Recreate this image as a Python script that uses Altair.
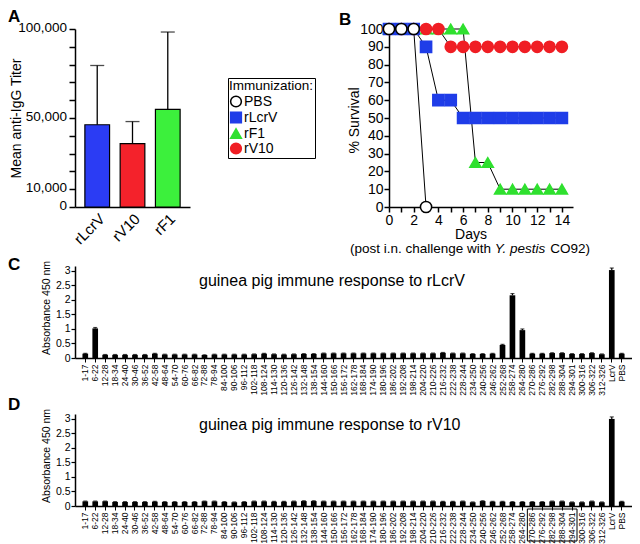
import altair as alt
import pandas as pd

FONT = "Liberation Sans"

# ---------------- Panel A data ----------------
a_groups = ["rLcrV", "rV10", "rF1"]
a_means = [46200, 35600, 54800]
a_errs = [33300, 12400, 43500]
a_colors = ["#2b3cf4", "#f4222b", "#3cf03c"]
a_ticks = [0, 10000, 20000, 30000, 40000, 50000, 60000, 70000, 80000, 90000, 100000]
a_label_vals = [0, 10000, 50000, 100000]
a_label_text = ["0", "10,000", "50,000", "100,000"]

# ---------------- Panel B data ----------------
b_series = ["PBS", "rLcrV", "rF1", "rV10"]
b_shapes = ["circle", "square", "triangle-up", "circle"]
b_fills = ["white", "#1f3de8", "#2fe02f", "#f01e24"]
b_strokes = ["black", "#1f3de8", "#2fe02f", "#f01e24"]
b_days = [0, 1, 2, 3, 4, 5, 6, 7, 8, 9, 10, 11, 12, 13, 14]
pbs_days = [0, 1, 2, 3]
pbs_surv = [100, 100, 100, 0]
rlcrv_surv = [100, 100, 100, 90, 60, 60, 50, 50, 50, 50, 50, 50, 50, 50, 50]
rf1_surv = [100, 100, 100, 100, 100, 100, 100, 25, 25, 10, 10, 10, 10, 10, 10]
rv10_surv = [100, 100, 100, 100, 100, 90, 90, 90, 90, 90, 90, 90, 90, 90, 90]

# ---------------- Panels C / D data ----------------
pep_labels = ["1-17", "6-22", "12-28", "18-34", "24-40", "30-46", "36-52", "42-58",
              "48-64", "54-70", "60-76", "66-82", "72-88", "78-94", "84-100", "90-106",
              "96-112", "102-118", "108-124", "114-130", "120-136", "126-142", "132-148",
              "138-154", "144-160", "150-166", "156-172", "162-178", "168-184", "174-190",
              "180-196", "186-202", "192-208", "198-214", "204-220", "210-226", "216-232",
              "222-238", "228-244", "234-250", "240-256", "246-262", "252-268", "258-274",
              "264-280", "270-286", "276-292", "282-298", "288-304", "294-301", "300-316",
              "306-322", "312-326", "LcrV", "PBS"]
c_vals = [0.15, 1.02, 0.11, 0.11, 0.11, 0.11, 0.11, 0.15, 0.12, 0.12, 0.12, 0.12,
          0.10, 0.12, 0.12, 0.12, 0.12, 0.13, 0.15, 0.13, 0.12, 0.13, 0.14, 0.14,
          0.16, 0.16, 0.16, 0.16, 0.16, 0.16, 0.16, 0.16, 0.16, 0.16, 0.16, 0.16,
          0.18, 0.16, 0.16, 0.14, 0.14, 0.15, 0.45, 2.16, 0.96, 0.15, 0.15, 0.17,
          0.17, 0.14, 0.14, 0.17, 0.13, 3.03, 0.15]
c_errs = [0.01, 0.03, 0.01, 0.01, 0.01, 0.01, 0.01, 0.01, 0.01, 0.01, 0.01, 0.01,
          0.01, 0.01, 0.01, 0.01, 0.01, 0.01, 0.01, 0.01, 0.01, 0.01, 0.01, 0.01,
          0.01, 0.01, 0.01, 0.01, 0.01, 0.01, 0.01, 0.01, 0.01, 0.01, 0.01, 0.01,
          0.01, 0.01, 0.01, 0.01, 0.01, 0.01, 0.02, 0.06, 0.04, 0.01, 0.01, 0.01,
          0.01, 0.01, 0.01, 0.01, 0.01, 0.07, 0.01]
d_vals = [0.16, 0.16, 0.16, 0.14, 0.14, 0.14, 0.14, 0.15, 0.14, 0.14, 0.14, 0.14,
          0.16, 0.16, 0.14, 0.13, 0.14, 0.16, 0.16, 0.15, 0.15, 0.16, 0.17, 0.17,
          0.16, 0.16, 0.16, 0.16, 0.16, 0.16, 0.16, 0.16, 0.16, 0.16, 0.16, 0.16,
          0.15, 0.15, 0.16, 0.13, 0.17, 0.15, 0.15, 0.14, 0.14, 0.14, 0.14, 0.16,
          0.16, 0.13, 0.13, 0.16, 0.13, 3.00, 0.15]
d_errs = [0.01] * 53 + [0.07, 0.01]
c_ticks = [0, 0.5, 1, 1.5, 2, 2.5, 3]
box_first, box_last = "270-286", "294-301"


def text_layer(text, x, y, size, weight="normal", style="normal", align="left", baseline="alphabetic"):
    return alt.Chart(pd.DataFrame({"t": [text]})).mark_text(
        font=FONT, fontSize=size, fontWeight=weight, fontStyle=style,
        align=align, baseline=baseline, color="black"
    ).encode(text="t:N", x=alt.value(x), y=alt.value(y))


# ---------------- Panel A ----------------
A_W, A_H = 115, 178
dfa = pd.DataFrame({"g": a_groups, "m": a_means,
                    "top": [m + e for m, e in zip(a_means, a_errs)]})
dfa_lab = pd.DataFrame({"v": a_label_vals, "t": a_label_text})
xa = alt.X("g:N", sort=a_groups,
           scale=alt.Scale(domain=a_groups, paddingInner=0.3, paddingOuter=0.28),
           axis=alt.Axis(title=None, labelAngle=-45, labelFontSize=15, ticks=False,
                         domain=True, domainWidth=1.5, labelPadding=4))


def ya(field):
    return alt.Y(field, scale=alt.Scale(domain=[0, 100000], nice=False),
                 axis=alt.Axis(title="Mean anti-IgG Titer", values=a_ticks, labels=False,
                               tickSize=6, tickWidth=1.5, domain=True, domainWidth=1.5,
                               titleFontSize=14,
                               titleX=-55, titleY=A_H / 2, titleBaseline="alphabetic"))


a_bars = alt.Chart(dfa).mark_bar(stroke="black", strokeWidth=1.2).encode(
    x=xa, y=ya("m:Q"),
    color=alt.Color("g:N", scale=alt.Scale(domain=a_groups, range=a_colors), legend=None))
a_rule = alt.Chart(dfa).mark_rule(color="black", strokeWidth=1.3).encode(
    x=xa, y=ya("m:Q"), y2="top:Q")
a_cap = alt.Chart(dfa).mark_tick(color="black", thickness=1.3, size=14).encode(
    x=xa, y=ya("top:Q"))
a_ylabels = alt.Chart(dfa_lab).mark_text(
    font=FONT, fontSize=13.5, align="right", baseline="middle", color="black", dy=-1
).encode(y=ya("v:Q"), text="t:N", x=alt.value(-8))
panel_a = alt.layer(a_bars, a_rule, a_cap,
                    text_layer("A", -67, -20, 17, weight="bold", baseline="top")
                    ).properties(width=A_W, height=A_H)
panel_a = alt.layer(panel_a, a_ylabels).properties(width=A_W, height=A_H)

# ---------------- Panel B ----------------
B_W, B_H = 184, 178
rows = []
for name, days, surv in [("rF1", b_days, rf1_surv), ("rV10", b_days, rv10_surv),
                         ("rLcrV", b_days, rlcrv_surv), ("PBS", pbs_days, pbs_surv)]:
    for d, s in zip(days, surv):
        rows.append({"s": name, "day": d, "surv": s})
dfb = pd.DataFrame(rows)

xb = alt.X("day:Q", scale=alt.Scale(domain=[0, 14.9], nice=False),
           axis=alt.Axis(title=None, values=b_days,
                         labelExpr="datum.value % 2 == 0 ? datum.label : ''",
                         tickSize=5, tickWidth=1.5, domainWidth=1.5, labelFontSize=14,
                         labelPadding=1, labelFlush=False, labelOverlap=False))
yb = alt.Y("surv:Q", scale=alt.Scale(domain=[0, 100], nice=False),
           axis=alt.Axis(title="% Survival", values=[0, 10, 20, 30, 40, 50, 60, 70, 80, 90, 100],
                         tickSize=5, tickWidth=1.5, domainWidth=1.5, labelFontSize=14,
                         labelPadding=1, titleFontSize=14, titleX=-31, titleY=B_H / 2 + 2,
                         titleBaseline="alphabetic", labelOverlap=False))
leg = alt.Legend(orient="none", legendX=-161, legendY=49, padding=1, strokeColor="black",
                 fillColor="white", titleFontSize=13.5, titleFontWeight="normal",
                 titleColor="black", labelFontSize=14, labelColor="black", symbolSize=115,
                 symbolStrokeWidth=1.5, rowPadding=-7, titlePadding=2, labelOffset=1,
                 titleFont=FONT, labelFont=FONT)
b_lines = alt.Chart(dfb).mark_line(color="black", strokeWidth=1).encode(
    x=xb, y=yb, detail="s:N")
b_points = alt.Chart(dfb).mark_point(filled=True, opacity=1, size=125, strokeWidth=1.5).encode(
    x=xb, y=yb,
    shape=alt.Shape("s:N", title="Immunization:", scale=alt.Scale(domain=b_series, range=b_shapes), legend=leg),
    fill=alt.Fill("s:N", title="Immunization:", scale=alt.Scale(domain=b_series, range=b_fills), legend=leg),
    stroke=alt.Stroke("s:N", title="Immunization:", scale=alt.Scale(domain=b_series, range=b_strokes), legend=leg),
)
panel_b = alt.layer(
    b_lines, b_points,
    text_layer("B", -50, -17, 17, weight="bold", baseline="top"),
    text_layer("Days", 82, B_H + 28, 14, align="center", baseline="middle"),
    text_layer("(post i.n. challenge with", -39, B_H + 42, 13.5, baseline="middle"),
    text_layer("Y. pestis", 105.8, B_H + 42, 13.5, style="italic", baseline="middle"),
    text_layer("CO92)", 161.3, B_H + 42, 13.5, baseline="middle"),
).properties(width=B_W, height=B_H)

# ---------------- Panels C / D ----------------
C_W, C_H = 557, 92
HALF = C_W / (55 - 0.43 + 1.5) / 2


def elisa(vals, errs, title, letter, letter_y, title_y, box=False):
    df = pd.DataFrame({"lab": pep_labels, "v": vals,
                       "top": [v + e for v, e in zip(vals, errs)]})
    x = alt.X("lab:N", sort=pep_labels,
              scale=alt.Scale(domain=pep_labels, paddingInner=0.43, paddingOuter=0.75),
              axis=alt.Axis(title=None, labelAngle=-90, labelFontSize=8.5, labelPadding=2,
                            tickSize=4, tickWidth=1, domain=True, domainWidth=1.5))

    def y(field):
        return alt.Y(field, scale=alt.Scale(domain=[0, 3.17], nice=False),
                     axis=alt.Axis(values=c_ticks, format="~g", title="Absorbance 450 nm",
                                   titleFontSize=10.5, labelFontSize=10.5, tickSize=4,
                                   tickWidth=1.2, domain=True, domainWidth=1.5, labelPadding=1,
                                   labelOverlap=False,
                                   titleX=-26, titleY=C_H * 0.45, titleBaseline="alphabetic"))

    bars = alt.Chart(df).mark_bar(color="black").encode(x=x, y=y("v:Q"))
    rule = alt.Chart(df).mark_rule(color="black", strokeWidth=1.2).encode(
        x=x, y=y("v:Q"), y2="top:Q")
    cap = alt.Chart(df).mark_tick(color="black", thickness=1.2, size=4).encode(
        x=x, y=y("top:Q"))
    layers = [bars, rule, cap,
              text_layer(title, 124, title_y, 16),
              text_layer(letter, -67, letter_y, 17, weight="bold", baseline="top")]
    if box:
        bl = pd.DataFrame({"lab": [box_first]})
        br = pd.DataFrame({"lab": [box_last]})
        bh = pd.DataFrame({"lab": [box_first], "lab2": [box_last]})
        layers.append(alt.Chart(bl).mark_rule(color="black", strokeWidth=1, xOffset=-HALF).encode(
            x=x, y=alt.value(C_H + 3), y2=alt.value(C_H + 35)))
        layers.append(alt.Chart(br).mark_rule(color="black", strokeWidth=1, xOffset=HALF).encode(
            x=x, y=alt.value(C_H + 3), y2=alt.value(C_H + 35)))
        layers.append(alt.Chart(bh).mark_rule(color="black", strokeWidth=1,
                                              xOffset=-HALF, x2Offset=HALF).encode(
            x=x, x2="lab2:N", y=alt.value(C_H + 3)))
        layers.append(alt.Chart(bh).mark_rule(color="black", strokeWidth=1,
                                              xOffset=-HALF, x2Offset=HALF).encode(
            x=x, x2="lab2:N", y=alt.value(C_H + 35)))
    return alt.layer(*layers).properties(width=C_W, height=C_H)


panel_c = elisa(c_vals, c_errs, "guinea pig immune response to rLcrV", "C", -9, 20)
panel_d = elisa(d_vals, d_errs, "guinea pig immune response to rV10", "D", -17, 15.5, box=True)

indep = dict(color="independent", shape="independent", fill="independent", stroke="independent")
top = alt.hconcat(panel_a, panel_b, spacing=37).resolve_scale(**indep).resolve_legend(**indep)
chart = alt.vconcat(top, panel_c, panel_d, spacing=0, padding=0).resolve_scale(**indep).resolve_legend(
    **indep
).configure_view(
    stroke=None
).configure_axis(
    labelFont=FONT, titleFont=FONT, domainColor="black", tickColor="black",
    labelColor="black", titleColor="black", titleFontWeight="normal", grid=False
).configure_legend(labelFont=FONT, titleFont=FONT)

chart.save("out.html", embed_options={"renderer": "svg", "actions": False})
